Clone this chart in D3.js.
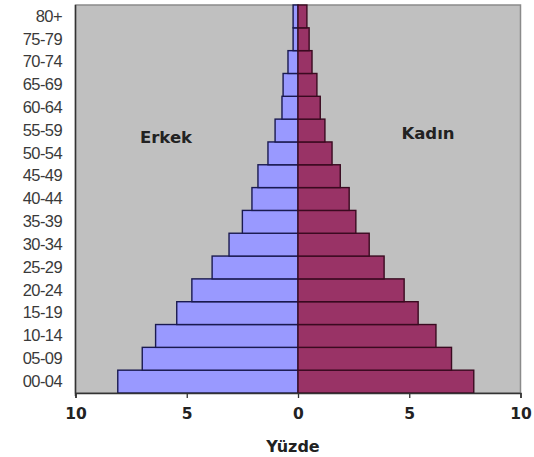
<!DOCTYPE html>
<html><head><meta charset="utf-8">
<script src="https://cdn.jsdelivr.net/npm/d3@7"></script>
<style>body{margin:0;background:#fff}svg{display:block}</style>
</head><body>
<script>
const ageGroups = ["00-04","05-09","10-14","15-19","20-24","25-29","30-34","35-39","40-44","45-49","50-54","55-59","60-64","65-69","70-74","75-79","80+"];
const male   = [8.1, 7.0, 6.4, 5.45, 4.77, 3.86, 3.1, 2.5, 2.07, 1.8, 1.35, 1.03, 0.72, 0.67, 0.45, 0.22, 0.22];
const female = [7.9, 6.9, 6.2, 5.4, 4.77, 3.87, 3.2, 2.6, 2.3, 1.9, 1.53, 1.21, 1.0, 0.85, 0.63, 0.5, 0.4];
const xTicks = [-10, -5, 0, 5, 10];
const xTickLabels = ["10", "5", "0", "5", "10"];

const W = 534, H = 457;
const svg = d3.select("body").append("svg").attr("width", W).attr("height", H);

const x = d3.scaleLinear().domain([-10, 10]).range([75.5, 520.5]);
const y = d3.scaleBand().domain(ageGroups.slice().reverse()).range([5, 393]).padding(0);

// plot area
svg.append("rect").attr("x", x(-10)).attr("y", 5).attr("width", x(10) - x(-10)).attr("height", 388)
  .attr("fill", "#c0c0c0").attr("stroke", "#8a8a8a").attr("stroke-width", 1.5);

// bars
svg.append("g").selectAll("rect").data(ageGroups).join("rect")
  .attr("x", (d, i) => x(-male[i])).attr("y", d => y(d))
  .attr("width", (d, i) => x(0) - x(-male[i])).attr("height", y.bandwidth())
  .attr("fill", "#9999ff").attr("stroke", "#1a1a50").attr("stroke-width", 1.4);
svg.append("g").selectAll("rect").data(ageGroups).join("rect")
  .attr("x", x(0)).attr("y", d => y(d))
  .attr("width", (d, i) => x(female[i]) - x(0)).attr("height", y.bandwidth())
  .attr("fill", "#993366").attr("stroke", "#3a0a20").attr("stroke-width", 1.4);

// left axis line
svg.append("line").attr("x1", x(-10)).attr("x2", x(-10)).attr("y1", 5).attr("y2", 396)
  .attr("stroke", "#333").attr("stroke-width", 1.5);

// y labels
const yAxis = d3.axisLeft(y).tickSize(0).tickPadding(0);
const gy = svg.append("g").attr("transform", "translate(62,0)").call(yAxis);
gy.select(".domain").remove();
gy.selectAll("text").attr("font-family", "Liberation Sans, Arial, sans-serif").attr("font-size", 16.5)
  .attr("fill", "#3a3a3a").attr("letter-spacing", "-0.6");

// x axis
const xAxis = d3.axisBottom(x).tickValues(xTicks).tickFormat((d, i) => xTickLabels[i]).tickSize(5).tickPadding(10);
const gx = svg.append("g").attr("transform", "translate(0,393)").call(xAxis);
gx.select(".domain").attr("stroke", "#333").attr("stroke-width", 1.5);
gx.selectAll("line").attr("stroke", "#333").attr("stroke-width", 1.3);
gx.selectAll("text").attr("font-family", "DejaVu Sans, sans-serif").attr("font-weight", "bold")
  .attr("font-size", 15.5).attr("fill", "#222");

// axis title
svg.append("text").attr("x", 293).attr("y", 452).attr("text-anchor", "middle")
  .attr("font-family", "DejaVu Sans, sans-serif").attr("font-weight", "bold").attr("font-size", 16)
  .attr("fill", "#222").text("Yüzde");

// series labels
svg.append("text").attr("x", 166).attr("y", 143).attr("text-anchor", "middle")
  .attr("font-family", "DejaVu Sans, sans-serif").attr("font-weight", "bold").attr("font-size", 16.5)
  .attr("fill", "#222").text("Erkek");
svg.append("text").attr("x", 428).attr("y", 139).attr("text-anchor", "middle")
  .attr("font-family", "DejaVu Sans, sans-serif").attr("font-weight", "bold").attr("font-size", 16.5)
  .attr("fill", "#222").text("Kadın");
</script>
</body></html>
